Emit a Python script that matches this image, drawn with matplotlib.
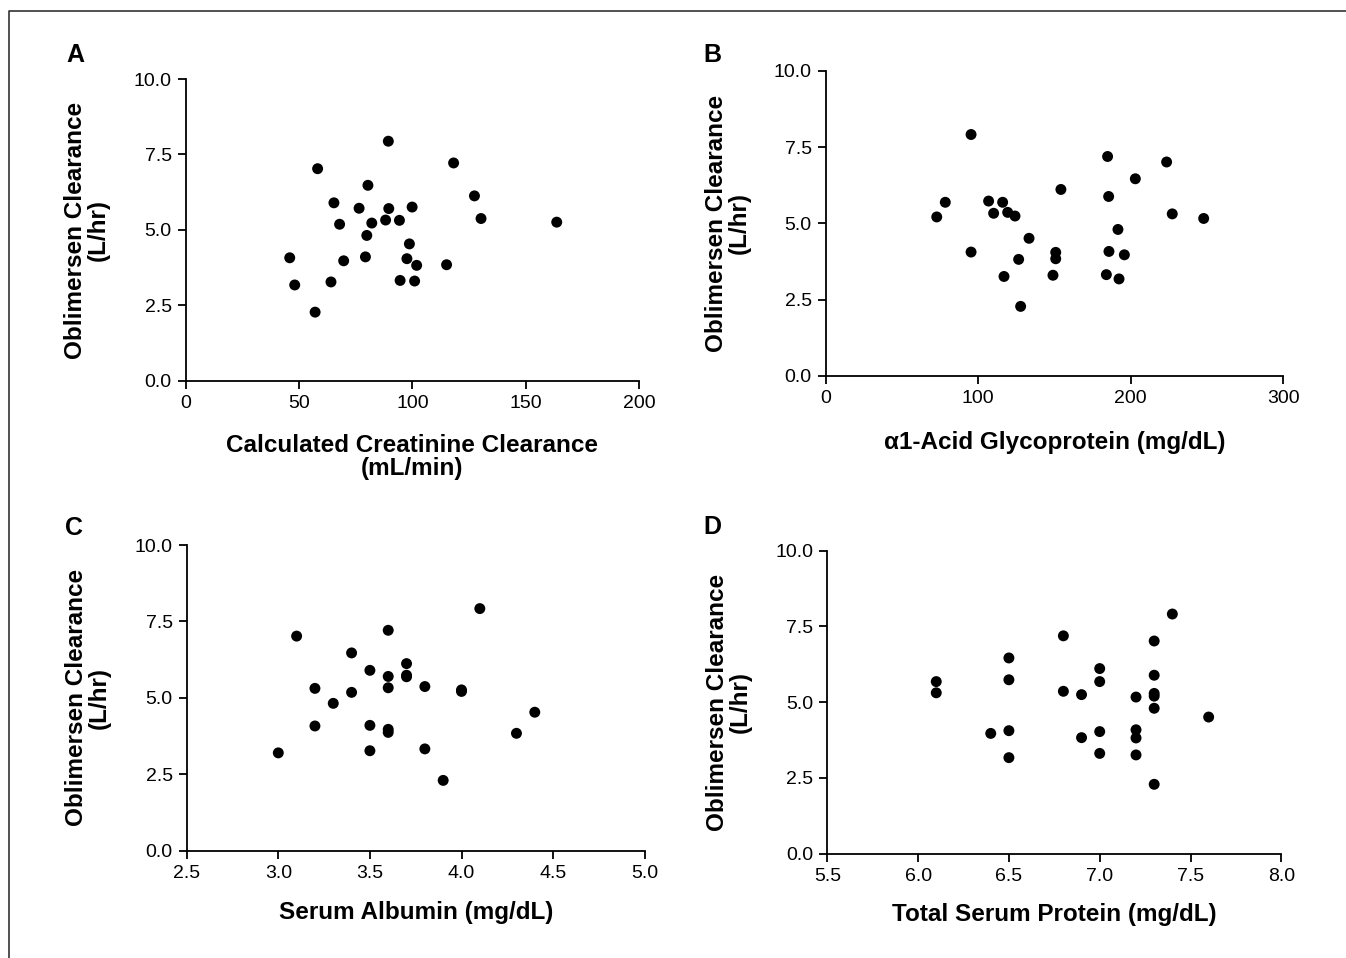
import numpy as np
import matplotlib.pyplot as plt
from matplotlib.lines import Line2D

plt.rcParams['font.family'] = ['Liberation Sans', 'DejaVu Sans']

# 数据：四个面板，纵轴都是 Oblimersen 清除率 (L/hr)
crcl = [89.4, 58.2, 118.2, 80.4, 127.4, 65.4, 76.5, 89.6, 99.9, 130.3, 67.9, 82.1, 88.2, 94.3,
        163.7, 79.9, 98.7, 45.9, 79.3, 97.6, 69.7, 101.9, 115.1, 48.1, 64.1, 94.6, 101.0, 57.1]
cl_a = [7.94, 7.03, 7.22, 6.48, 6.13, 5.90, 5.72, 5.71, 5.76, 5.38, 5.19, 5.23, 5.33, 5.32,
        5.26, 4.82, 4.54, 4.08, 4.11, 4.05, 3.98, 3.83, 3.85, 3.18, 3.28, 3.33, 3.31, 2.28]

agp = [95.3, 184.8, 223.5, 203.0, 154.2, 185.5, 78.4, 106.8, 116.0, 110.1, 119.3, 124.1, 72.8, 227.2,
       247.8, 191.6, 133.3, 95.3, 150.8, 150.8, 126.5, 185.7, 195.8, 116.9, 149.0, 184.0, 192.3, 127.8]
cl_b = [7.91, 7.19, 7.01, 6.46, 6.11, 5.88, 5.69, 5.73, 5.69, 5.33, 5.36, 5.24, 5.21, 5.31,
        5.16, 4.80, 4.51, 4.06, 4.05, 3.84, 3.82, 4.08, 3.97, 3.26, 3.30, 3.32, 3.18, 2.28]

albumin = [4.1, 3.1, 3.6, 3.4, 3.7, 3.5, 3.6, 3.7, 3.7, 3.2, 3.6, 3.8, 4.0, 4.0, 3.4, 3.3, 4.4,
           3.2, 3.5, 3.6, 3.6, 4.3, 3.0, 3.5, 3.8, 3.9]
cl_c = [7.92, 7.02, 7.21, 6.47, 6.12, 5.90, 5.70, 5.74, 5.69, 5.31, 5.33, 5.37, 5.26, 5.21, 5.18,
        4.82, 4.53, 4.08, 4.10, 3.97, 3.87, 3.84, 3.20, 3.27, 3.33, 2.30]

protein = [7.4, 6.8, 7.3, 6.5, 7.0, 7.3, 6.1, 6.5, 7.0, 6.1, 6.8, 6.9, 7.2, 7.3, 7.3, 7.3, 7.6,
           6.4, 6.5, 7.0, 7.2, 7.2, 6.9, 6.5, 7.0, 7.2, 7.3]
cl_d = [7.91, 7.19, 7.02, 6.46, 6.11, 5.89, 5.68, 5.74, 5.68, 5.31, 5.36, 5.25, 5.17, 5.29, 5.20,
        4.80, 4.51, 3.97, 4.06, 4.03, 4.09, 3.82, 3.83, 3.17, 3.31, 3.26, 2.29]

W, H = 1346, 958
fig = plt.figure(figsize=(W / 100, H / 100), dpi=100)


def px_axes(left, right, top, bottom):
    # 像素坐标转换成 figure 比例
    return fig.add_axes([left / W, 1 - bottom / H, (right - left) / W, (bottom - top) / H])


panels = [
    # letter, box(px), x, y, xlim, xticks, xticklabels, xlabel, letter pos, ylabel x, xlabel y
    ('A', (185.7, 639, 79, 381), crcl, cl_a, (0, 200), [0, 50, 100, 150, 200],
     ['0', '50', '100', '150', '200'], 'Calculated Creatinine Clearance\n(mL/min)',
     (75, 55), 87, 457),
    ('B', (825.7, 1283.3, 70.7, 376), agp, cl_b, (0, 300), [0, 100, 200, 300],
     ['0', '100', '200', '300'], '\u03b11-Acid Glycoprotein (mg/dL)',
     (712, 55), 728, 442),
    ('C', (186.7, 644.7, 545, 850.7), albumin, cl_c, (2.5, 5.0), [2.5, 3.0, 3.5, 4.0, 4.5, 5.0],
     ['2.5', '3.0', '3.5', '4.0', '4.5', '5.0'], 'Serum Albumin (mg/dL)',
     (74, 528), 88, 913),
    ('D', (827.3, 1281.3, 550.7, 853.7), protein, cl_d, (5.5, 8.0), [5.5, 6.0, 6.5, 7.0, 7.5, 8.0],
     ['5.5', '6.0', '6.5', '7.0', '7.5', '8.0'], 'Total Serum Protein (mg/dL)',
     (712, 527), 729, 915),
]

for letter, box, x, y, xlim, xt, xtl, xlab, lpos, ylx, xly in panels:
    left, right, top, bottom = box
    ax = px_axes(left, right, top, bottom)
    ax.scatter(x, y, s=62, color='black', edgecolors='none', clip_on=False, zorder=3)
    ax.set_xlim(*xlim)
    ax.set_ylim(0, 10)
    ax.set_xticks(xt)
    ax.set_xticklabels(xtl)
    ax.set_yticks([0, 2.5, 5.0, 7.5, 10.0])
    ax.set_yticklabels(['0.0', '2.5', '5.0', '7.5', '10.0'])
    for s in ['top', 'right']:
        ax.spines[s].set_visible(False)
    for s in ['left', 'bottom']:
        ax.spines[s].set_linewidth(1.3)
    ax.tick_params(direction='out', length=6, width=1.3, labelsize=14, pad=4)

    ax.set_ylabel('Oblimersen Clearance\n(L/hr)', fontsize=17.5, fontweight='bold', linespacing=1.0)
    ax.yaxis.set_label_coords((ylx - left) / (right - left), 0.5)
    ax.yaxis.label.set_va('center')
    ax.set_xlabel(xlab, fontsize=17.5, fontweight='bold', linespacing=1.05)
    ax.xaxis.set_label_coords(0.5, -(xly - bottom) / (bottom - top))
    ax.xaxis.label.set_va('center')

    fig.text(lpos[0] / W, 1 - lpos[1] / H, letter, fontsize=18, fontweight='bold',
             ha='center', va='center')

# 外框（只有上边和左边）
fig.add_artist(Line2D([9 / W, 9 / W, 1.0], [0.0, 1 - 11 / H, 1 - 11 / H],
                      color='#333333', linewidth=1.2, transform=fig.transFigure))

fig.savefig('out.png', dpi=100)
